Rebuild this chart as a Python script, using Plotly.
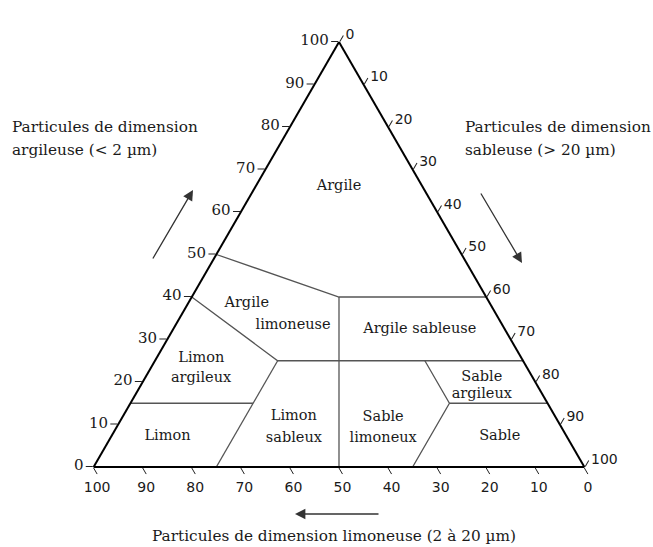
import plotly.graph_objects as go

# Triangle des textures : a = argile, b = limon, c = sable (somme = 100)
graduations = [0, 10, 20, 30, 40, 50, 60, 70, 80, 90, 100]

# limites entre les classes, points (argile, limon, sable)
limite_argile = [(50, 50, 0), (40, 30, 30), (40, 0, 60)]
limite_argile_limoneuse = [(40, 60, 0), (25, 50, 25), (25, 0, 75)]
limite_sable_50 = [(40, 30, 30), (0, 50, 50)]
limite_limon_argileux = [(15, 85, 0), (15, 60, 25)]
limite_limon_sableux = [(25, 50, 25), (0, 75, 25)]
limite_sable = [(25, 20, 55), (15, 20, 65), (0, 35, 65)]
limite_sable_argileux = [(15, 20, 65), (15, 0, 85)]

limites = [limite_argile, limite_argile_limoneuse, limite_sable_50,
           limite_limon_argileux, limite_limon_sableux, limite_sable,
           limite_sable_argileux]

# noms des classes, une ligne de texte par point
noms = ["Argile", "Argile", "limoneuse", "Limon", "argileux", "Limon",
        "Limon", "sableux", "Argile sableuse", "Sable", "limoneux",
        "Sable", "argileux", "Sable"]
noms_argile = [66, 38.4, 33.3, 25.5, 20.8, 7.1, 12.0, 6.8, 32.3, 11.6, 6.8, 21.0, 17.2, 7.3]
noms_limon = [17, 49.6, 42.7, 65.3, 67.7, 81.4, 53.2, 55.8, 17.4, 35.2, 37.6, 10.4, 12.3, 13.6]
noms_sable = [17, 12.0, 24.0, 9.2, 11.5, 11.5, 34.8, 37.4, 50.3, 53.2, 55.6, 68.6, 70.5, 79.1]

SERIF = "DejaVu Serif"
SANS = "DejaVu Sans"
W, H = 653, 547

fig = go.Figure()

for lim in limites:
    fig.add_trace(go.Scatterternary(
        a=[p[0] for p in lim], b=[p[1] for p in lim], c=[p[2] for p in lim],
        mode="lines", line=dict(color="#555555", width=1.3),
        hoverinfo="skip", showlegend=False))

fig.add_trace(go.Scatterternary(
    a=noms_argile, b=noms_limon, c=noms_sable, text=noms,
    mode="text", textposition="middle center",
    textfont=dict(family=SERIF, size=14.5, color="#1a1a1a"),
    hoverinfo="skip", showlegend=False))


def axe(font_family, size):
    return dict(
        min=0, tickmode="array", tickvals=graduations,
        ticks="outside", ticklen=7, tickwidth=1, tickcolor="#222222",
        showgrid=False, linecolor="black", linewidth=2,
        tickfont=dict(family=font_family, size=size, color="#1a1a1a"),
        title=dict(text=""))


fig.update_layout(
    width=W, height=H,
    margin=dict(l=0, r=0, t=0, b=0),
    paper_bgcolor="white",
    ternary=dict(
        sum=100, bgcolor="white",
        domain=dict(x=[92 / W, 586 / W], y=[80 / H, 505 / H]),
        aaxis=axe(SERIF, 15), baxis=axe(SANS, 14), caxis=axe(SANS, 14)),
)

# titres des axes (une annotation par ligne), positions en pixels
titre_font = dict(family=SERIF, size=15.3, color="#1a1a1a")
titres = [
    (10, 127, "left", "Particules de dimension"),
    (10, 150, "left", "argileuse (< 2 µm)"),
    (463, 127, "left", "Particules de dimension"),
    (463, 150, "left", "sableuse (> 20 µm)"),
    (334, 536, "center", "Particules de dimension limoneuse (2 à 20 µm)"),
]
for (x, y, anchor, txt) in titres:
    fig.add_annotation(x=x / W, y=1 - y / H, xref="paper", yref="paper",
                       xanchor=anchor, yanchor="middle", showarrow=False,
                       text=txt, font=titre_font)

# fleches de lecture
for (x, y, ax, ay) in [(193, 190, -41, 70), (522, 263, -42, -71), (295, 514, 85, 0)]:
    fig.add_annotation(x=x / W, y=1 - y / H, xref="paper", yref="paper",
                       text="", showarrow=True, ax=ax, ay=ay,
                       arrowhead=2, arrowsize=1.6, arrowwidth=1.3, arrowcolor="#333333")

# pas de marge autour du graphique dans la page
fig.write_html("out.html", config={"displayModeBar": False},
               post_script="document.body.style.margin='0';")
